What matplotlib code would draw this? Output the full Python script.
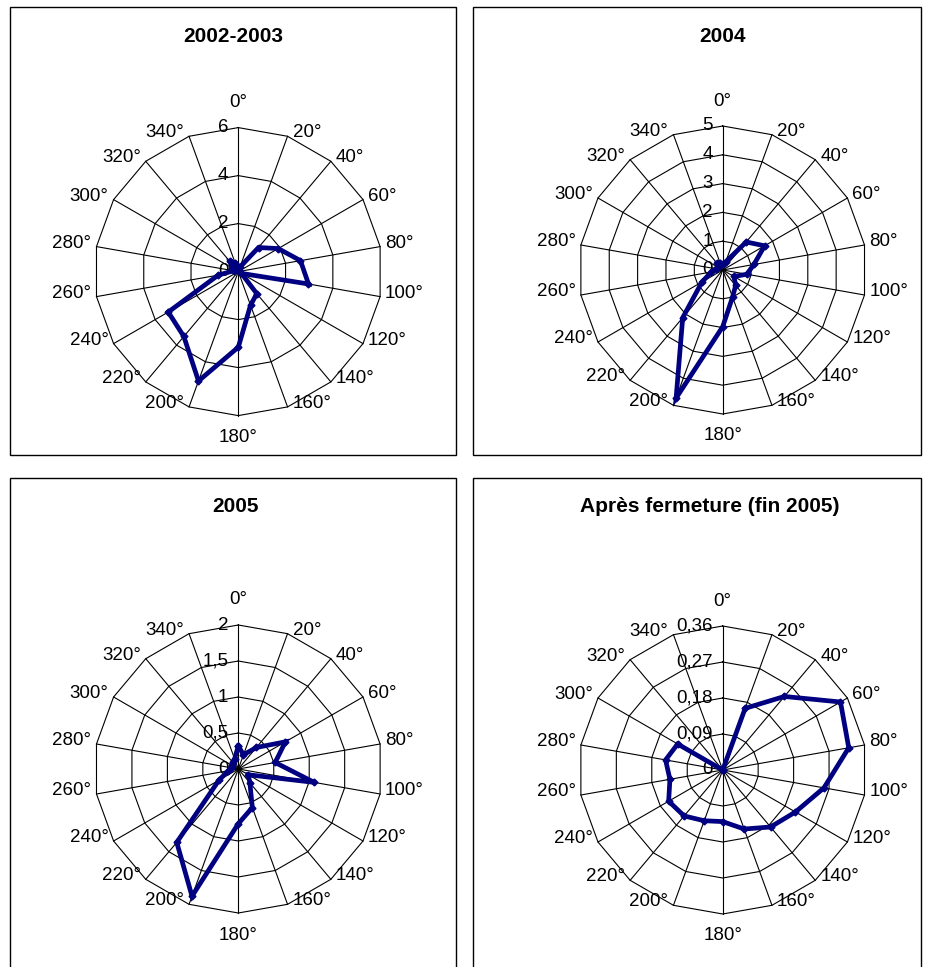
import numpy as np
import matplotlib
matplotlib.use("Agg")
import matplotlib.pyplot as plt
from matplotlib.patches import Rectangle

plt.rcParams['font.family'] = ['Liberation Sans', 'DejaVu Sans']

# Wind directions (degrees, clockwise from north)
directions = [0, 20, 40, 60, 80, 100, 120, 140, 160, 180,
              200, 220, 240, 260, 280, 300, 320, 340]
direction_labels = [f"{d}°" for d in directions]

# Values per direction for each period
v_2002_2003 = [0.2, 0.2, 1.31, 1.92, 2.63, 2.97, 0.15, 1.2, 1.49,
               3.15, 4.85, 3.53, 3.37, 0.85, 0.2, 0.3, 0.55, 0.4]
v_2004 = [0.2, 0.3, 1.27, 1.68, 1.1, 0.85, 0.45, 0.7, 1.0,
          1.97, 4.73, 2.16, 0.83, 0.4, 0.25, 0.2, 0.3, 0.25]
v_2005 = [0.32, 0.21, 0.39, 0.755, 0.52, 1.07, 0.16, 0.25, 0.57,
          0.76, 1.88, 1.33, 0.31, 0.14, 0.1, 0.1, 0.12, 0.15]
v_apres = [0.0, 0.164, 0.24, 0.34, 0.32, 0.257, 0.21, 0.186, 0.157,
           0.129, 0.135, 0.15, 0.156, 0.134, 0.145, 0.13, 0.0, 0.0]

# Radial axis ticks and their labels
ticks_2002_2003 = [0, 2, 4, 6]
labels_2002_2003 = ["0", "2", "4", "6"]
ticks_2004 = [0, 1, 2, 3, 4, 5]
labels_2004 = ["0", "1", "2", "3", "4", "5"]
ticks_2005 = [0, 0.5, 1, 1.5, 2]
labels_2005 = ["0", "0,5", "1", "1,5", "2"]
ticks_apres = [0, 0.09, 0.18, 0.27, 0.36]
labels_apres = ["0", "0,09", "0,18", "0,27", "0,36"]

titles = ["2002-2003", "2004", "2005", "Après fermeture (fin 2005)"]

W, H = 930, 967
fig = plt.figure(figsize=(W / 100, H / 100), dpi=100)


def frac_rect(x0, y0, w, h):
    return [x0 / W, 1 - (y0 + h) / H, w / W, h / H]


LINE = '#000080'
FS = 13.5

# Chart frames (the lower two run past the bottom edge)
frames = [(10, 7, 446, 448), (473, 7, 448, 448),
          (10, 478, 446, 500), (473, 478, 448, 500)]
for (x0, y0, w, h) in frames:
    fig.patches.append(Rectangle((x0 / W, 1 - (y0 + h) / H), w / W, h / H,
                                 transform=fig.transFigure, fill=False,
                                 edgecolor='black', linewidth=1.0))

title_pos = [(233, 36), (722, 36), (235, 506), (710, 506)]
centers = [(238.3, 271.6), (722.7, 270.0), (238.3, 769.0), (722.7, 770.0)]
RADIUS = 144

panels = [
    (v_2002_2003, ticks_2002_2003, labels_2002_2003),
    (v_2004, ticks_2004, labels_2004),
    (v_2005, ticks_2005, labels_2005),
    (v_apres, ticks_apres, labels_apres),
]

theta = np.deg2rad(directions)
theta_closed = np.append(theta, theta[0])

for i, (vals, ticks, tlabels) in enumerate(panels):
    cx, cy = centers[i]
    ax = fig.add_axes(frac_rect(cx - RADIUS, cy - RADIUS, 2 * RADIUS, 2 * RADIUS),
                      projection='polar')
    ax.set_theta_zero_location('N')
    ax.set_theta_direction(-1)
    rmax = ticks[-1]
    ax.set_ylim(0, rmax)
    ax.grid(False)
    ax.spines['polar'].set_visible(False)
    ax.set_xticks([])
    ax.set_yticks([])
    ax.patch.set_alpha(0)

    # polygonal rings
    for r in ticks[1:]:
        ax.plot(theta_closed, [r] * len(theta_closed), color='black',
                linewidth=0.8, clip_on=False, zorder=1)
    # spokes
    for t in theta:
        ax.plot([t, t], [0, rmax], color='black', linewidth=0.8,
                clip_on=False, zorder=1)

    # data polygon
    vals_closed = list(vals) + [vals[0]]
    ax.plot(theta_closed, vals_closed, color=LINE, linewidth=3.4,
            marker='D', markersize=3.5, clip_on=False, zorder=3,
            solid_joinstyle='miter')

    # direction labels
    for t, d, lbl in zip(theta, directions, direction_labels):
        if d == 0:
            ha, dx, dy = 'center', 0, 25
        elif d == 180:
            ha, dx, dy = 'center', 0, -22
        elif d < 180:
            ha, dx, dy = 'left', 5, 3.5
        else:
            ha, dx, dy = 'right', -5, 3.5
        ax.annotate(lbl, xy=(t, rmax), xycoords='data', xytext=(dx, dy),
                    textcoords='offset pixels', ha=ha, va='center',
                    fontsize=FS, annotation_clip=False, zorder=4)

    # value labels along the 0° spoke
    for r, lbl in zip(ticks, tlabels):
        ax.annotate(lbl, xy=(0, r), xycoords='data', xytext=(-10, 0),
                    textcoords='offset pixels', ha='right', va='center',
                    fontsize=FS, annotation_clip=False, zorder=2)

    tx, ty = title_pos[i]
    fig.text(tx / W, 1 - ty / H, titles[i], ha='center', va='center',
             fontsize=15, fontweight='bold')

fig.savefig('out.png', dpi=100)
